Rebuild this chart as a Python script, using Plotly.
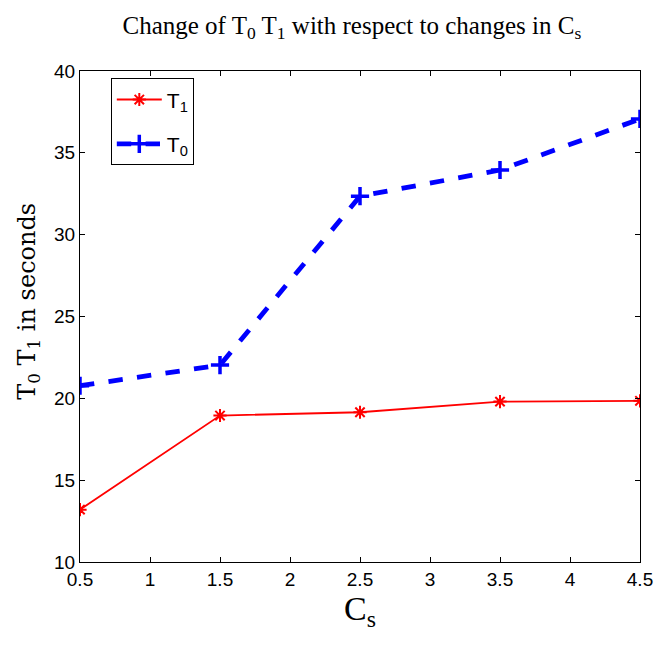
import plotly.graph_objects as go

cs = [0.5, 1.5, 2.5, 3.5, 4.5]
t1 = [13.2, 18.95, 19.15, 19.8, 19.85]
t0 = [20.77, 22.03, 32.35, 33.95, 37.07]
x_ticks = [0.5, 1, 1.5, 2, 2.5, 3, 3.5, 4, 4.5]
x_tick_labels = ["0.5", "1", "1.5", "2", "2.5", "3", "3.5", "4", "4.5"]
y_ticks = [10, 15, 20, 25, 30, 35, 40]

fig = go.Figure()
fig.add_trace(go.Scatter(
    x=cs, y=t1, mode="lines+markers", name="T<sub>1</sub>", legendgroup="a",
    line=dict(color="#ff0000", width=1.8),
    marker=dict(symbol="asterisk-open", size=11, color="#ff0000",
                line=dict(color="#ff0000", width=2)),
))
fig.add_trace(go.Scatter(
    x=cs, y=t0, mode="lines+markers", name="T<sub>0</sub>", legendgroup="b",
    line=dict(color="#0000ff", width=4.8, dash="dash"),
    marker=dict(symbol="cross-thin-open", size=13, color="#0000ff",
                line=dict(color="#0000ff", width=3.5)),
))

tick_font = dict(family="Liberation Sans Narrow, Arial Narrow, Liberation Sans", size=19, color="black")
axis_common = dict(
    showline=True, linecolor="black", linewidth=1, mirror="ticks",
    ticks="inside", ticklen=5, tickcolor="black", showgrid=False, zeroline=False,
    automargin=False, tickfont=tick_font,
)

fig.update_layout(
    width=669, height=646,
    paper_bgcolor="white", plot_bgcolor="white",
    margin=dict(l=72, r=37, t=63, b=92),
    title=dict(
        text="Change of T<sub>0</sub> T<sub>1</sub> with respect to changes in C<sub>s</sub>",
        x=0.514, xanchor="center", y=0.987, yanchor="top",
        font=dict(family="Liberation Serif, Times New Roman", size=25, color="black"),
    ),
    xaxis=dict(
        range=[0.5, 4.5], tickvals=x_ticks, ticktext=x_tick_labels,
        title=dict(text="C<sub>s</sub>", font=dict(family="Liberation Serif, Times New Roman", size=34, color="black"), standoff=6),
        **axis_common,
    ),
    yaxis=dict(
        range=[10, 40], tickvals=y_ticks,
        **axis_common,
    ),
    annotations=[dict(
        text="T<sub>0</sub> T<sub>1</sub> in seconds", textangle=-90,
        xref="paper", yref="paper", x=-0.091, y=0.53,
        xanchor="center", yanchor="middle", showarrow=False,
        font=dict(family="DejaVu Serif, Liberation Serif", size=24, color="black"),
    )],
    legend=dict(
        x=0.055, y=0.985, xanchor="left", yanchor="top",
        bordercolor="black", borderwidth=1, bgcolor="white",
        font=dict(family="Liberation Sans Narrow, Arial Narrow, Liberation Sans", size=21, color="black"),
        traceorder="grouped", tracegroupgap=14, itemwidth=45,
    ),
    showlegend=True,
)

fig.write_html("out.html")
